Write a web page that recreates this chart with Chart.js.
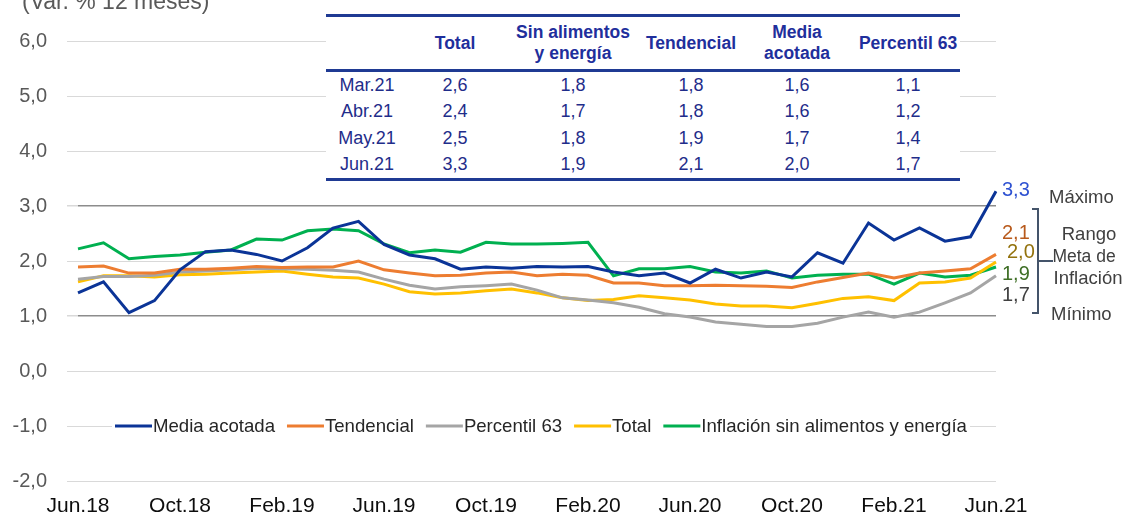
<!DOCTYPE html>
<html>
<head>
<meta charset="utf-8">
<script src="https://cdn.jsdelivr.net/npm/chart.js@4/dist/chart.umd.min.js"></script>
<style>
body { margin: 0; background: #fff; font-family: "Liberation Sans", Arial, sans-serif; }
#wrap { position: relative; width: 1126px; height: 516px; overflow: hidden; }
#title { position: absolute; left: 22px; top: -12px; font-size: 23px; line-height: 26px; color: #595959; white-space: nowrap; }
#tbl { position: absolute; left: 326px; top: 14px; width: 634px; table-layout: fixed; border-collapse: collapse; background: #fff; color: #1f2d8a; }
#tbl thead tr { border-top: 3px solid #1f3a93; border-bottom: 3px solid #1f3a93; }
#tbl tbody { border-bottom: 3px solid #1f3a93; }
#tbl th { height: 52px; padding: 0; font-size: 17.5px; line-height: 21px; font-weight: bold; color: #1f2f9c; text-align: center; white-space: nowrap; }
#tbl td { height: 26.5px; padding: 0; font-size: 18px; text-align: center; }
</style>
</head>
<body>
<div id="wrap">
  <canvas id="inflChart" width="1126" height="516"></canvas>
  <div id="title">(Var. % 12 meses)</div>
  <table id="tbl">
    <colgroup><col style="width:82px"><col style="width:94px"><col style="width:142px"><col style="width:94px"><col style="width:118px"><col style="width:104px"></colgroup>
    <thead><tr id="tblHead"></tr></thead>
    <tbody id="tblBody"></tbody>
  </table>
</div>
<script>
// monthly labels, Jun.18 - Jun.21
const months = ['Jun.18','Jul.18','Ago.18','Set.18','Oct.18','Nov.18','Dic.18','Ene.19','Feb.19','Mar.19','Abr.19','May.19',
  'Jun.19','Jul.19','Ago.19','Set.19','Oct.19','Nov.19','Dic.19','Ene.20','Feb.20','Mar.20','Abr.20','May.20',
  'Jun.20','Jul.20','Ago.20','Set.20','Oct.20','Nov.20','Dic.20','Ene.21','Feb.21','Mar.21','Abr.21','May.21','Jun.21'];

const mediaAcotada = [1.42,1.62,1.06,1.28,1.84,2.17,2.2,2.12,2.0,2.24,2.6,2.72,2.3,2.11,2.04,1.85,1.89,1.87,1.9,1.89,1.9,1.8,1.73,1.78,1.6,1.85,1.69,1.8,1.71,2.15,1.96,2.69,2.38,2.6,2.36,2.44,3.27];
const tendencial = [1.89,1.91,1.78,1.78,1.85,1.85,1.87,1.9,1.88,1.89,1.89,2.0,1.84,1.78,1.73,1.74,1.78,1.8,1.73,1.76,1.74,1.6,1.6,1.55,1.55,1.56,1.55,1.54,1.52,1.62,1.7,1.78,1.69,1.78,1.82,1.86,2.12];
const percentil63 = [1.67,1.72,1.72,1.74,1.8,1.82,1.84,1.87,1.86,1.85,1.83,1.8,1.67,1.56,1.49,1.53,1.55,1.58,1.47,1.33,1.29,1.24,1.16,1.04,0.98,0.89,0.85,0.81,0.81,0.87,0.98,1.07,0.98,1.07,1.24,1.42,1.73];
const total = [1.62,1.73,1.73,1.71,1.75,1.76,1.78,1.8,1.82,1.76,1.71,1.69,1.58,1.44,1.4,1.42,1.46,1.49,1.42,1.33,1.28,1.3,1.37,1.33,1.29,1.22,1.18,1.18,1.15,1.23,1.32,1.35,1.28,1.6,1.62,1.69,1.98];
const sinAlimentos = [2.22,2.33,2.04,2.08,2.11,2.16,2.2,2.4,2.38,2.55,2.58,2.55,2.31,2.15,2.2,2.16,2.34,2.31,2.31,2.32,2.34,1.73,1.86,1.86,1.9,1.8,1.78,1.82,1.69,1.74,1.76,1.76,1.58,1.78,1.71,1.74,1.89];

// table in the top of the chart
const tableHeaders = ['', 'Total', 'Sin alimentos<br>y energía', 'Tendencial', 'Media<br>acotada', 'Percentil 63'];
const tableMonths = ['Mar.21', 'Abr.21', 'May.21', 'Jun.21'];
const tableTotal = [2.6, 2.4, 2.5, 3.3];
const tableSinAlimentos = [1.8, 1.7, 1.8, 1.9];
const tableTendencial = [1.8, 1.8, 1.9, 2.1];
const tableMediaAcotada = [1.6, 1.6, 1.7, 2.0];
const tablePercentil = [1.1, 1.2, 1.4, 1.7];

const fmt = v => v.toFixed(1).replace('.', ',');

document.getElementById('tblHead').innerHTML = tableHeaders.map(h => '<th>' + h + '</th>').join('');
document.getElementById('tblBody').innerHTML = tableMonths.map((m, i) =>
  '<tr><td>' + m + '</td>' +
  [tableTotal, tableSinAlimentos, tableTendencial, tableMediaAcotada, tablePercentil]
    .map(col => '<td>' + fmt(col[i]) + '</td>').join('') + '</tr>').join('');

const FONT = '"Liberation Sans", Arial, sans-serif';

// legend drawn inside the plot, on the -1,0 line
const inlineLegend = {
  id: 'inlineLegend',
  afterDraw(chart) {
    const c = chart.ctx;
    const y = chart.scales.y.getPixelForValue(-1);
    let x = chart.chartArea.left + 37;
    c.save();
    c.font = '18.6px ' + FONT;
    c.textBaseline = 'middle';
    let w = 0;
    chart.data.datasets.forEach(ds => { w += 38 + c.measureText(ds.label).width + 12; });
    c.fillStyle = '#fff';
    c.fillRect(x - 3, y - 11, w - 6, 22);
    chart.data.datasets.forEach(ds => {
      c.strokeStyle = ds.borderColor;
      c.lineWidth = 3;
      c.beginPath(); c.moveTo(x, y); c.lineTo(x + 37, y); c.stroke();
      x += 38;
      c.fillStyle = '#262626';
      c.fillText(ds.label, x, y + 1);
      x += c.measureText(ds.label).width + 12;
    });
    c.restore();
  }
};

// last value labels + range bracket
const endNotes = {
  id: 'endNotes',
  afterDatasetsDraw(chart) {
    const c = chart.ctx;
    const ys = chart.scales.y;
    const right = chart.chartArea.right;
    c.save();
    c.textBaseline = 'middle';
    c.font = '20px ' + FONT;
    chart.data.datasets.forEach((ds, i) => {
      const pts = chart.getDatasetMeta(i).data;
      const p = pts[pts.length - 1];
      c.fillStyle = ds.endColor;
      c.fillText(fmt(ds.data[ds.data.length - 1]), p.x + 6 + ds.endDx, p.y + ds.endDy);
    });
    const yTop = ys.getPixelForValue(3) + 3;
    const yBot = ys.getPixelForValue(1) - 3;
    const yMid = ys.getPixelForValue(2);
    const bx = right + 42;
    c.strokeStyle = '#44546a';
    c.lineWidth = 2;
    c.beginPath();
    c.moveTo(bx - 6, yTop); c.lineTo(bx, yTop); c.lineTo(bx, yBot); c.lineTo(bx - 6, yBot);
    c.moveTo(bx, yMid); c.lineTo(bx + 15, yMid);
    c.stroke();
    c.fillStyle = '#404040';
    c.font = '18.5px ' + FONT;
    c.textAlign = 'left';
    c.fillText('Máximo', right + 53, ys.getPixelForValue(3) - 8);
    c.fillText('Mínimo', right + 55, ys.getPixelForValue(1) - 1);
    c.textAlign = 'center';
    c.fillText('Rango', right + 93, yMid - 26);
    c.font = '17.5px ' + FONT;
    c.fillText('Meta de', right + 88, yMid - 4);
    c.font = '18.5px ' + FONT;
    c.fillText('Inflación', right + 92, yMid + 18);
    c.restore();
  }
};

new Chart(document.getElementById('inflChart'), {
  type: 'line',
  data: {
    labels: months,
    datasets: [
      { label: 'Media acotada', data: mediaAcotada, borderColor: '#0b3497', endColor: '#2f52d2', endDx: 0, endDy: -1 },
      { label: 'Tendencial', data: tendencial, borderColor: '#ed7d31', endColor: '#b85a1c', endDx: 0, endDy: -21 },
      { label: 'Percentil 63', data: percentil63, borderColor: '#a5a5a5', endColor: '#404040', endDx: 0, endDy: 20 },
      { label: 'Total', data: total, borderColor: '#ffc000', endColor: '#93720d', endDx: 5, endDy: -10 },
      { label: 'Inflación sin alimentos y energía', data: sinAlimentos, borderColor: '#00b050', endColor: '#3f6f26', endDx: 0, endDy: 7 }
    ]
  },
  options: {
    responsive: false,
    animation: false,
    layout: { padding: { top: 41, right: 130, bottom: 0, left: 0 } },
    elements: {
      line: { borderWidth: 3, tension: 0 },
      point: { radius: 0 }
    },
    plugins: {
      legend: { display: false },
      tooltip: { enabled: false }
    },
    scales: {
      x: {
        grid: { display: false, drawTicks: false },
        border: { display: false },
        ticks: {
          autoSkip: false,
          maxRotation: 0,
          padding: 13,
          color: '#0d0d0d',
          font: { family: FONT, size: 21 },
          callback: (v, i) => i % 4 === 0 ? months[i] : ''
        },
        afterFit: s => { s.height = 35; }
      },
      y: {
        min: -2,
        max: 6,
        border: { display: false },
        grid: {
          color: c => (c.tick && (c.tick.value === 3 || c.tick.value === 1)) ? '#8c8c8c' : '#d9d9d9',
          lineWidth: c => (c.tick && (c.tick.value === 3 || c.tick.value === 1)) ? 1.5 : 1,
          tickColor: '#d9d9d9',
          tickLength: 11
        },
        ticks: {
          stepSize: 1,
          padding: 20,
          color: '#595959',
          font: { family: FONT, size: 20 },
          callback: v => fmt(v)
        },
        afterFit: s => { s.width = 78; }
      }
    }
  },
  plugins: [inlineLegend, endNotes]
});
</script>
</body>
</html>
